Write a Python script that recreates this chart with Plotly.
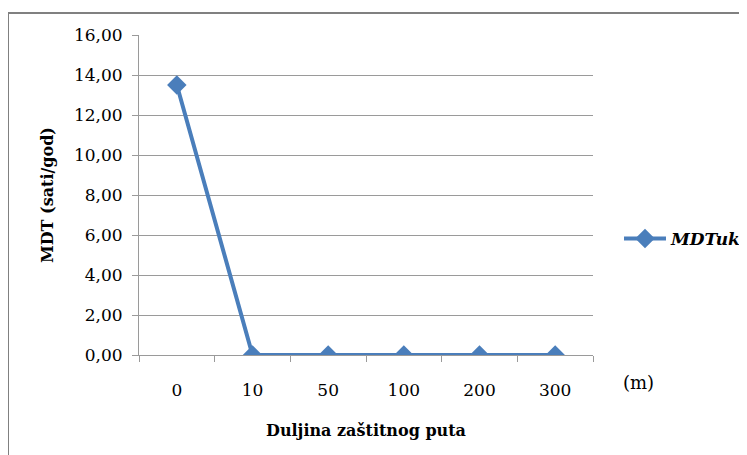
import plotly.graph_objects as go

categories = ["0", "10", "50", "100", "200", "300"]
mdtuk = [13.5, 0.0, 0.0, 0.0, 0.0, 0.0]
series_name = "MDTuk"
x_title = "Duljina zaštitnog puta"
y_title = "MDT (sati/god)"
unit_label = "(m)"

OX, OY = 8, 8          # page body margin offset
W, H = 747 - OX, 455 - OY
# plot area in window px
L, R, T, B = 139, 593, 35, 355
pw, ph = R - L, B - T

def px_x(x):
    return (x - L) / pw

def px_y(y):
    return (B - y) / ph

FONT = "DejaVu Serif"
GRID = "#9a9a9a"
BLUE = "#4a7ebb"

fig = go.Figure()
fig.add_trace(go.Scatter(
    x=categories, y=mdtuk, name=series_name, mode="lines+markers",
    line=dict(color=BLUE, width=4),
    marker=dict(symbol="diamond", size=15, color=BLUE),
    showlegend=True,
))

fig.update_layout(
    width=W, height=H,
    margin=dict(l=L - OX, r=747 - R, t=T - OY, b=455 - B, pad=0, autoexpand=False),
    paper_bgcolor="white", plot_bgcolor="white",
    separators=",.",
    font=dict(family=FONT, size=17, color="black"),
    xaxis=dict(
        type="category", range=[-0.5, 5.5], showgrid=False,
        showline=True, linecolor=GRID, linewidth=1,
        ticks="outside", tickson="boundaries", ticklen=6, tickcolor=GRID,
        tickfont=dict(family=FONT, size=17, color="black"), zeroline=False,
        ticklabelstandoff=20, automargin=False,
    ),
    yaxis=dict(
        range=[0, 16], dtick=2, tickformat=".2f",
        showgrid=True, gridcolor=GRID, gridwidth=1,
        showline=True, linecolor=GRID, linewidth=1,
        ticks="outside", ticklen=6, tickcolor=GRID,
        tickfont=dict(family=FONT, size=17, color="black"), zeroline=False,
        ticklabelstandoff=6, automargin=False,
    ),
    legend=dict(
        x=px_x(619), y=px_y(239), xanchor="left", yanchor="middle",
        font=dict(family=FONT, size=17, color="black", weight="bold", style="italic"),
        bgcolor="rgba(0,0,0,0)", itemwidth=42,
    ),
    annotations=[
        dict(text=x_title, x=0.5, y=px_y(430), xref="paper", yref="paper",
             showarrow=False, xanchor="center", yanchor="middle",
             font=dict(family=FONT, size=16, color="black", weight="bold")),
        dict(text=y_title, x=px_x(47), y=0.5, xref="paper", yref="paper",
             showarrow=False, xanchor="center", yanchor="middle", textangle=-90,
             font=dict(family=FONT, size=16, color="black", weight="bold")),
        dict(text=unit_label, x=px_x(638), y=px_y(382), xref="paper", yref="paper",
             showarrow=False, xanchor="center", yanchor="middle",
             font=dict(family=FONT, size=18, color="black")),
    ],
    shapes=[
        dict(type="rect", xref="paper", yref="paper",
             x0=px_x(8), y0=px_y(470), x1=px_x(760), y1=px_y(13),
             line=dict(color="#808080", width=2), fillcolor="rgba(0,0,0,0)", layer="below"),
    ],
)

fig.write_html("out.html")
